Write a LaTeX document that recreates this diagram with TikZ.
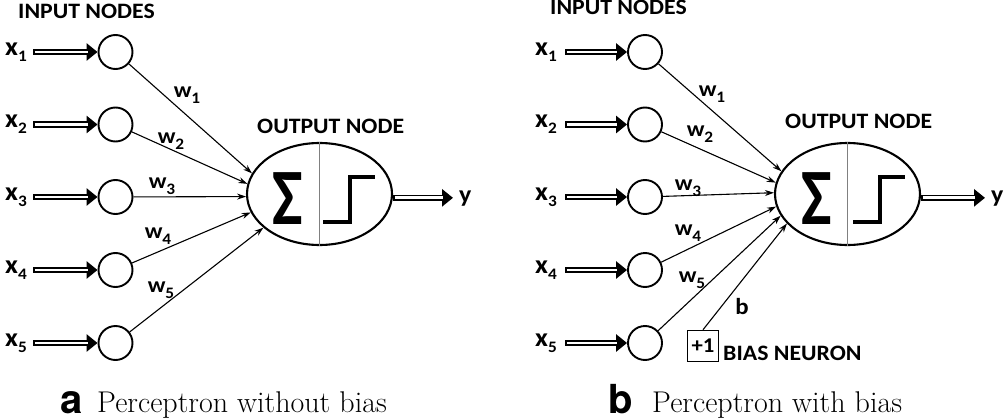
\documentclass[tikz,border=0pt]{standalone}
\usepackage{fontspec}
\usetikzlibrary{arrows.meta,shapes.geometric}
\newfontfamily\carl{Carlito}[FakeStretch=1.08]
\newfontfamily\helv{TeX Gyre Heros}
\newcommand\sub[1]{\raisebox{-6pt}{\fontsize{16}{16}\selectfont #1}}
\tikzset{
  hdr/.style={font=\carl\bfseries\fontsize{22}{24}\selectfont, inner sep=0, anchor=base west},
  xlab/.style={font=\carl\bfseries\fontsize{26}{28}\selectfont, inner sep=0, anchor=east},
  wlab/.style={font=\carl\bfseries\fontsize{22}{24}\selectfont, inner sep=0},
  ylab/.style={font=\carl\bfseries\fontsize{24}{26}\selectfont, inner sep=0, anchor=base west},
  inp/.style={circle, draw, line width=1.9pt, minimum size=34pt, inner sep=0},
  outn/.style={ellipse, draw, line width=2.1pt, minimum width=145pt, minimum height=102pt, inner sep=0},
  dbl/.style={line width=6.6pt, -{Triangle[length=11pt,width=17pt]},
              postaction={draw=white, line width=2.8pt, shorten <=1.9pt, shorten >=10pt, -}},
  wire/.style={line width=1.1pt, -{Stealth[length=9pt,width=6pt]}},
  divider/.style={line width=1.2pt, gray},
  stepfn/.style={line width=4.5pt},
  sig/.style={font=\carl\bfseries\fontsize{80}{80}\selectfont, inner sep=0},
  capl/.style={font=\helv\bfseries\fontsize{40}{40}\selectfont, inner sep=0, anchor=base west},
  capt/.style={font=\fontsize{30}{32}\selectfont, inner sep=0, anchor=base west},
}
\begin{document}
\begin{tikzpicture}[x=1pt,y=-1pt]
\useasboundingbox (0,0) rectangle (1006,420);
% ---------------- panel a ----------------
\node[hdr] (ha) at (18,19) {INPUT NODES};
\foreach \i/\y in {1/52,2/124.5,3/197,4/270,5/343}{
  \node[inp] (a\i) at (115.5,\y) {};
  \node[xlab] (ax\i) at (27,\y) {x\sub{\i}};
  \draw[dbl] ([xshift=6pt]ax\i.east) -- (a\i.west);
}
\node[outn] (oa) at (319.5,194) {};
\node[hdr] (hoa) at (257,133) {OUTPUT NODE};
\draw[divider] (oa.north) -- (oa.south);
\node[sig] (sa) at (288,199) {\scalebox{0.75}[1]{Σ}};
\draw[stepfn] (323,222) -- (350,222) -- (350,177) -- (375,177);
\draw[wire] (a1) -- (oa.163);
\draw[wire] (a2) -- (oa.172);
\draw[wire] (a3) -- (oa.182);
\draw[wire] (a4) -- (oa.195);
\draw[wire] (a5) -- (oa.211);
\node[wlab] (wa1) at (187,95) {w\sub{1}};
\node[wlab] (wa2) at (171,141) {w\sub{2}};
\node[wlab] (wa3) at (162,186) {w\sub{3}};
\node[wlab] (wa4) at (158,236) {w\sub{4}};
\node[wlab] (wa5) at (161,290) {w\sub{5}};
\node[ylab] (ya) at (459,202) {y};
\path ([xshift=-6pt]ya.west) coordinate (yae);
\draw[dbl] (oa.-3) -- (oa.-3 -| yae);
\node[capl] (cla) at (60.5,413) {a};
\node[capt] (cta) at (97,412) {Perceptron without bias};
% ---------------- panel b ----------------
\node[hdr] (hb) at (550,15) {INPUT NODES};
\foreach \i/\y in {1/52,2/124.5,3/197,4/270,5/343}{
  \node[inp] (b\i) at (645,\y) {};
  \node[xlab] (bx\i) at (557,\y) {x\sub{\i}};
  \draw[dbl] ([xshift=8pt]bx\i.east) -- (b\i.west);
}
\node[outn] (ob) at (847.5,194) {};
\node[hdr] (hob) at (785,128) {OUTPUT NODE};
\draw[divider] (ob.north) -- (ob.south);
\node[sig] (sb) at (817,199) {\scalebox{0.75}[1]{Σ}};
\draw[stepfn] (853,222) -- (880,222) -- (880,177) -- (905,177);
\draw[wire] (b1) -- (ob.161);
\draw[wire] (b2) -- (ob.171);
\draw[wire] (b3) -- (ob.179);
\draw[wire] (b4) -- (ob.190.5);
\draw[wire] (b5) -- (ob.198);
\node[draw, line width=1.5pt, minimum size=31pt, inner sep=0,
      font=\carl\bfseries\fontsize{21}{21}\selectfont] (bias) at (703,346) {+1};
\node[hdr] (bn) at (723,360) {BIAS NEURON};
\draw[wire] (bias.north) -- (ob.206);
\node[wlab] (wb1) at (712,94) {w\sub{1}};
\node[wlab] (wb2) at (700,134) {w\sub{2}};
\node[wlab] (wb3) at (688,188) {w\sub{3}};
\node[wlab] (wb4) at (688,233) {w\sub{4}};
\node[wlab] (wb5) at (692,280) {w\sub{5}};
\node[font=\carl\bfseries\fontsize{23}{25}\selectfont, inner sep=0] (bl) at (742,307) {b};
\node[ylab] (yb) at (991,202) {y};
\path ([xshift=-6pt]yb.west) coordinate (ybe);
\draw[dbl] (ob.-3) -- (ob.-3 -| ybe);
\node[capl] (clb) at (608.5,413) {b};
\node[capt] (ctb) at (652,412) {Perceptron with bias};
\end{tikzpicture}
\end{document}
